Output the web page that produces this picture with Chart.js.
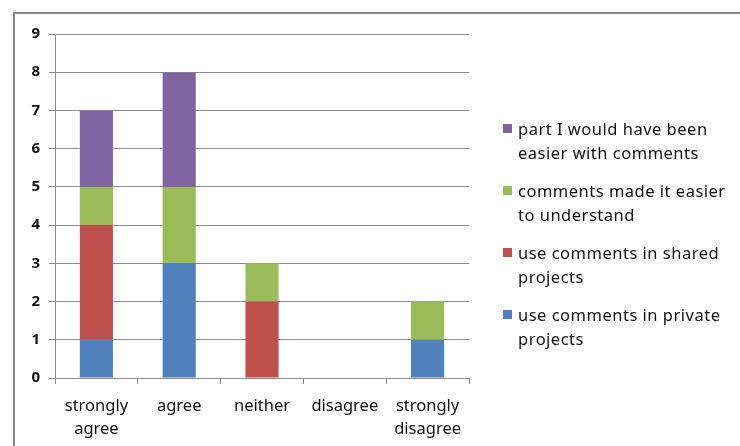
<!DOCTYPE html>
<html>
<head>
<meta charset="utf-8">
<script src="https://cdn.jsdelivr.net/npm/chart.js@4"></script>
<style>
  body { margin: 0; background: #fff; }
  .wrap { position: relative; width: 740px; height: 446px; overflow: hidden; }
  .frame {
    position: absolute; left: 13px; top: 12px; width: 760px; height: 460px;
    border: 1px solid #8a8a8a; border-width: 2px 0 0 2px;
  }
  canvas { position: absolute; left: 0; top: 0; }
  .legend {
    position: absolute; left: 503px; top: 117px;
    font-family: 'Noto Sans', sans-serif; font-size: 16.5px; letter-spacing: 0.5px; color: #111;
  }
  .legend .item { position: relative; padding-left: 15px; line-height: 24px; height: 48px; margin-bottom: 14px; width: 230px; white-space: nowrap; }
  .legend .box { position: absolute; left: 0; top: 7px; width: 9px; height: 9px; }
</style>
</head>
<body>
<div class="wrap">
  <div class="frame"></div>
  <canvas id="chart" width="740" height="446"></canvas>
  <div class="legend" id="legend"></div>
</div>
<script>
// answer categories along the x axis
const categories = [
  ['strongly', 'agree'],
  'agree',
  'neither',
  'disagree',
  ['strongly', 'disagree'],
];

// one series per statement, stacked bottom to top
const privateProjects = [1, 3, 0, 0, 1];
const sharedProjects = [3, 0, 2, 0, 0];
const easierToUnderstand = [1, 2, 1, 0, 1];
const easierWithComments = [2, 3, 0, 0, 0];

const seriesLabels = [
  ['use comments in private', 'projects'],
  ['use comments in shared', 'projects'],
  ['comments made it easier', 'to understand'],
  ['part I would have been', 'easier with comments'],
];
const seriesColors = ['#4f81bd', '#c0504d', '#9bbb59', '#8064a2'];

const yTicks = [0, 1, 2, 3, 4, 5, 6, 7, 8, 9];

const seriesData = [privateProjects, sharedProjects, easierToUnderstand, easierWithComments];
const gridColor = '#8c8c8c';

const datasets = seriesData.map((values, i) => ({
  label: seriesLabels[i].join(' '),
  data: values,
  backgroundColor: seriesColors[i],
  borderWidth: 0,
  barPercentage: 0.4,
  categoryPercentage: 1,
}));

new Chart(document.getElementById('chart'), {
  type: 'bar',
  data: { labels: categories, datasets },
  options: {
    responsive: false,
    animation: false,
    layout: { padding: { top: 34, right: 271, left: 0, bottom: 0 } },
    plugins: { legend: { display: false }, tooltip: { enabled: false } },
    scales: {
      x: {
        stacked: true,
        afterFit: (scale) => { scale.height = 68; },
        grid: { offset: true, drawOnChartArea: false, tickLength: 6, color: gridColor },
        border: { color: gridColor, width: 1 },
        ticks: {
          color: '#111',
          font: { family: 'Noto Sans', size: 16.5, lineHeight: 1.4 },
          padding: 11,
          maxRotation: 0,
          autoSkip: false,
        },
      },
      y: {
        stacked: true,
        min: 0,
        max: 9,
        afterFit: (scale) => { scale.width = 55; },
        afterBuildTicks: (scale) => { scale.ticks = yTicks.map((v) => ({ value: v })); },
        grid: { color: gridColor, tickLength: 6 },
        border: { color: gridColor, width: 1 },
        ticks: {
          color: '#111',
          font: { family: 'Noto Sans', size: 15, weight: 'bold' },
          padding: 9,
        },
      },
    },
  },
});

// legend on the right, listed top series first
const legend = document.getElementById('legend');
for (let i = seriesLabels.length - 1; i >= 0; i--) {
  const item = document.createElement('div');
  item.className = 'item';
  const box = document.createElement('span');
  box.className = 'box';
  box.style.background = seriesColors[i];
  item.appendChild(box);
  item.appendChild(document.createTextNode(seriesLabels[i][0]));
  item.appendChild(document.createElement('br'));
  item.appendChild(document.createTextNode(seriesLabels[i][1]));
  legend.appendChild(item);
}
</script>
</body>
</html>
